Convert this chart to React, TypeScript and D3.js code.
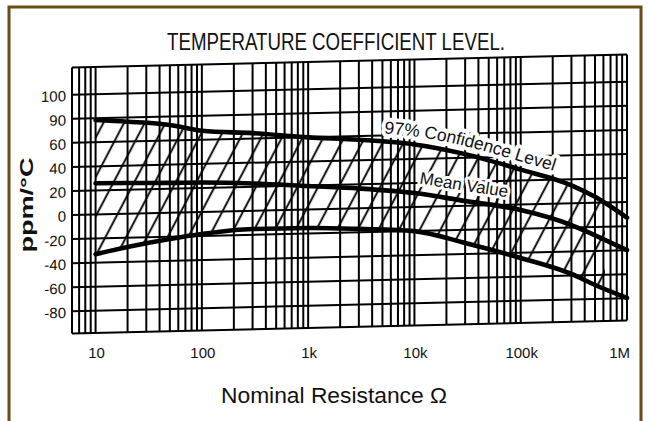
import React from 'react';
import * as d3 from 'd3';

// values (ppm/°C against nominal resistance)
const resistance = [10, 20, 50, 100, 300, 1e3, 3e3, 1e4, 3e4, 1e5, 3e5, 5e5, 1e6];
const upperLevel = [78.5, 76.5, 73, 67.5, 64.6, 60, 57, 52, 43, 29, 15, 5, -13];
const meanValue = [26, 25.6, 24.8, 24.5, 22.7, 19.5, 16.5, 11.6, 4, -4.5, -18, -27, -40];
const lowerLevel = [-33, -27.6, -21.8, -18.3, -15.1, -15.4, -17.1, -20, -30.8, -44.4, -58.7, -68.3, -79.7];

const xTickValues = [10, 100, 1e3, 1e4, 1e5, 1e6];
const xTickLabels = ['10', '100', '1k', '10k', '100k', '1M'];
const yTickValues = [100, 80, 60, 40, 20, 0, -20, -40, -60, -80];
const yTickLabels = ['100', '90', '60', '40', '20', '0', '-20', '-40', '-60', '-80'];

const NARROW = "'Liberation Sans Narrow', 'Arial Narrow', 'Liberation Sans', sans-serif";
const SANS = "'Liberation Sans', Arial, sans-serif";

// the scan is slightly sheared: horizontal lines rise towards the right
const SKEW = -1.34;

function lengthTo(pts: [number, number][], xt: number) {
  let L = 0;
  for (let i = 1; i < pts.length; i++) {
    const [x0, y0] = pts[i - 1], [x1, y1] = pts[i];
    if (x1 >= xt) {
      const t = (xt - x0) / (x1 - x0);
      return L + Math.hypot(t * (x1 - x0), t * (y1 - y0));
    }
    L += Math.hypot(x1 - x0, y1 - y0);
  }
  return L;
}

export default function App() {
  const width = 649, height = 421;
  const x = d3.scaleLog().domain([6, 1e6]).range([72, 627]);
  const y = d3.scaleLinear().domain([-98.5, 122.6]).range([333, 67]);
  const [yMin, yMax] = y.domain();

  const shift = -Math.tan((SKEW * Math.PI) / 180) * x(10);

  const line = d3.line<[number, number]>().curve(d3.curveMonotoneX);
  const pts = (vals: number[], dy = 0) =>
    resistance.map((r, i) => [x(r), y(vals[i]) + dy] as [number, number]);

  const band = d3
    .area<number>()
    .x((r) => x(r))
    .y0((_, i) => y(lowerLevel[i]))
    .y1((_, i) => y(upperLevel[i]))
    .curve(d3.curveMonotoneX);

  const upperLabelPts = pts(upperLevel, -8);
  const meanLabelPts = pts(meanValue, -10);
  const upperStart = lengthTo(upperLabelPts, 384);
  const meanStart = lengthTo(meanLabelPts, 419);

  const gridX = x.ticks();

  const curveLabel = (id: string, start: number, size: number, halo: number, txt: string) => (
    <g key={id}>
      <text fontFamily={SANS} fontSize={size} fill="#fff" stroke="#fff" strokeWidth={halo} strokeLinejoin="round">
        <textPath href={'#' + id} startOffset={start}>{txt}</textPath>
      </text>
      <text fontFamily={SANS} fontSize={size} fill="#111">
        <textPath href={'#' + id} startOffset={start}>{txt}</textPath>
      </text>
    </g>
  );

  return (
    <svg width={width} height={height} style={{ position: 'absolute', left: 0, top: 0, background: '#fff' }}>
      <defs>
        <pattern id="hatch" patternUnits="userSpaceOnUse" width={18.5} height={20}
          patternTransform="translate(12,0) rotate(28)">
          <line x1={9} y1={-2} x2={9} y2={22} stroke="#000" strokeWidth={1.9} />
        </pattern>
        <clipPath id="hatchClip">
          <rect x={x(10)} y={0} width={605 - x(10)} height={height} />
        </clipPath>
        <path id="upperLabelPath" d={line(upperLabelPts) || ''} />
        <path id="meanLabelPath" d={line(meanLabelPts) || ''} />
      </defs>

      <text x={336} y={50} textAnchor="middle" fontFamily={NARROW} fontSize={24}
        textLength={338} lengthAdjust="spacingAndGlyphs" fill="#111">
        TEMPERATURE COEFFICIENT LEVEL.
      </text>

      <g transform={`translate(0,${shift}) skewY(${SKEW})`}>
        {gridX.map((r) => (
          <line key={'v' + r} x1={x(r)} x2={x(r)} y1={y(yMax)} y2={y(yMin)} stroke="#000" strokeWidth={2} />
        ))}
        {[yMax, ...yTickValues, yMin].map((v) => (
          <line key={'h' + v} x1={x.range()[0]} x2={x.range()[1]} y1={y(v)} y2={y(v)} stroke="#000" strokeWidth={2} />
        ))}

        <path d={band(resistance) || ''} fill="url(#hatch)" clipPath="url(#hatchClip)" />

        {curveLabel('upperLabelPath', upperStart, 17.5, 8, '97% Confidence Level')}
        {curveLabel('meanLabelPath', meanStart, 17, 6, 'Mean Value')}

        {[upperLevel, meanValue, lowerLevel].map((vals, k) => (
          <path key={'c' + k} d={line(pts(vals)) || ''} fill="none" stroke="#000"
            strokeWidth={4.6} strokeLinecap="round" />
        ))}

        {yTickValues.map((v, i) => (
          <text key={'yt' + v} x={66} y={y(v) + 1} textAnchor="end" dominantBaseline="central"
            fontFamily={NARROW} fontSize={15} fill="#111">
            {yTickLabels[i]}
          </text>
        ))}
      </g>

      {xTickValues.map((r, i) => (
        <text key={'xt' + r} x={i === xTickValues.length - 1 ? x(r) + 3 : x(r) + 1} y={358}
          textAnchor={i === xTickValues.length - 1 ? 'end' : 'middle'}
          fontFamily={NARROW} fontSize={15} fill="#111">
          {xTickLabels[i]}
        </text>
      ))}

      <text transform="translate(33,205) rotate(-90)" textAnchor="middle" fontFamily={SANS}
        fontSize={19} fontWeight="bold" textLength={95} lengthAdjust="spacingAndGlyphs" fill="#111">
        ppm/°C
      </text>

      <text x={334} y={403} textAnchor="middle" fontFamily={SANS} fontSize={22}
        textLength={226} lengthAdjust="spacingAndGlyphs" fill="#111">
        Nominal Resistance Ω
      </text>

      <path d="M9,421 V7 H641 V421" fill="none" stroke="#6b4c14" strokeWidth={3} />
    </svg>
  );
}
